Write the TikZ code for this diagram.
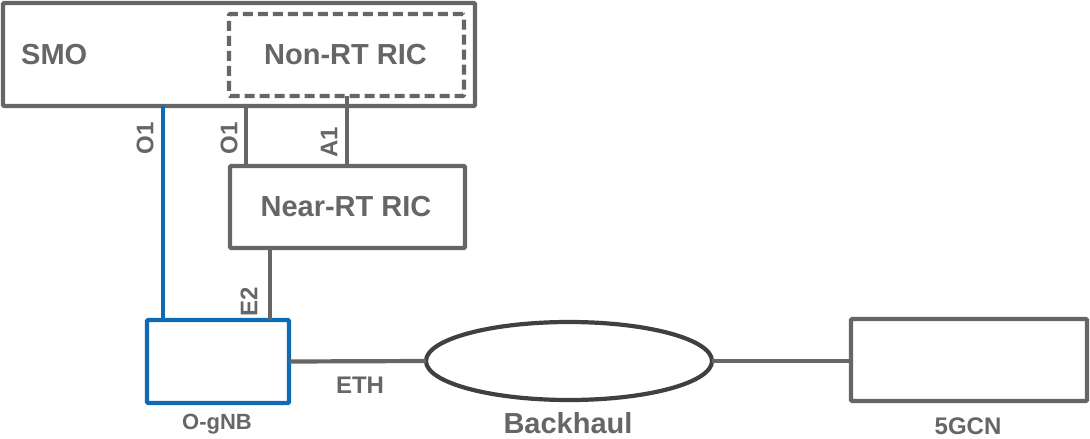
\documentclass[tikz,border=0pt]{standalone}
\usepackage{fontspec}
\setmainfont{Liberation Sans}
\usetikzlibrary{shapes.geometric}
\definecolor{lg}{HTML}{666666}
\definecolor{dg}{HTML}{404040}
\definecolor{ob}{HTML}{0F6AB4}
\tikzset{
  box/.style={draw=lg, line width=4.2pt, rounded corners=1.2pt, rectangle, inner sep=0pt, outer sep=0pt},
  conn/.style={draw=lg, line width=4.2pt},
  lbl/.style={text=lg, font=\bfseries\fontsize{29}{32}\selectfont, inner sep=0pt},
  slbl/.style={text=lg, font=\bfseries\fontsize{24}{28}\selectfont, inner sep=0pt},
  tlbl/.style={text=lg, font=\bfseries\fontsize{22}{26}\selectfont, inner sep=0pt},
}
\begin{document}
\begin{tikzpicture}[x=1pt,y=-1pt]
\useasboundingbox (0,0) rectangle (1090,439);
\node[box, minimum width=472pt, minimum height=103pt] (smo) at (239,54.5) {};
\node[box, dashed, dash pattern=on 10pt off 5pt, minimum width=235pt, minimum height=82pt] (nonrt) at (346.5,55) {};
\node[lbl, anchor=west] (smot) at (21,55) {SMO};
\node[lbl] (nonrtt) at (345.5,55) {Non-RT RIC};
\node[box, minimum width=235pt, minimum height=82pt] (nearrt) at (347.5,207) {};
\node[lbl] (nearrtt) at (346,207) {Near-RT RIC};
\node[box, draw=ob, minimum width=142pt, minimum height=83pt] (ognb) at (218,361.5) {};
\node[ellipse, draw=dg, line width=4.2pt, minimum width=286pt, minimum height=78pt, inner sep=0pt, outer sep=0pt] (bh) at (569,361) {};
\node[box, minimum width=236pt, minimum height=82pt] (gcn) at (969,360) {};
\coordinate (xa) at (163,0);
\coordinate (xb) at (246,0);
\coordinate (xc) at (347,0);
\coordinate (xd) at (270,0);
\draw[conn, draw=ob] (smo.south -| xa) -- (ognb.north -| xa);
\draw[conn] (smo.south -| xb) -- (nearrt.north -| xb);
\draw[conn] (nonrt.south -| xc) -- (nearrt.north -| xc);
\draw[conn] (nearrt.south -| xd) -- (ognb.north -| xd);
\draw[conn] (ognb.east) -- (bh.west);
\draw[conn] (bh.east) -- (bh.east -| gcn.west);
\node[slbl, rotate=90] (o1a) at (145,138) {O1};
\node[slbl, rotate=90] (o1b) at (229,138) {O1};
\node[slbl, rotate=90] (a1) at (329,142) {A1};
\node[slbl, rotate=90] (e2) at (249,302) {E2};
\node[slbl] (eth) at (360,385) {ETH};
\node[tlbl] (ognbt) at (217,424) {O-gNB};
\node[lbl] (bht) at (568,423) {Backhaul};
\node[slbl] (gcnt) at (968,426) {5GCN};
\end{tikzpicture}
\end{document}
